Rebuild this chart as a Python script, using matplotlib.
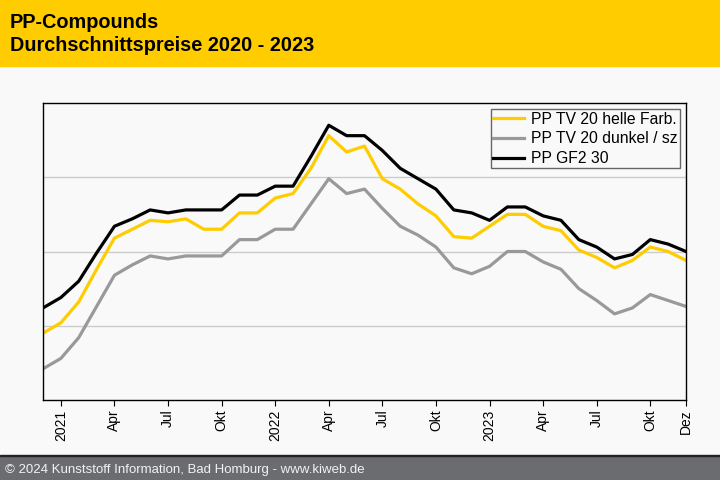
import matplotlib
matplotlib.use("Agg")
import matplotlib.pyplot as plt
from matplotlib.patches import Rectangle

plt.rcParams['font.family'] = ['Liberation Sans', 'DejaVu Sans']

# Monatswerte Dez 2020 - Dez 2023 (Skala ohne Beschriftung)
months = list(range(37))
helle = [1.45, 1.52, 1.66, 1.88, 2.09, 2.15, 2.21, 2.20, 2.22, 2.15, 2.15, 2.26, 2.26,
         2.36, 2.39, 2.56, 2.78, 2.67, 2.71, 2.49, 2.42, 2.32, 2.24, 2.10, 2.09,
         2.17, 2.25, 2.25, 2.17, 2.14, 2.01, 1.96, 1.89, 1.94, 2.03, 2.00, 1.94]
dunkel = [1.21, 1.28, 1.42, 1.63, 1.84, 1.91, 1.97, 1.95, 1.97, 1.97, 1.97, 2.08, 2.08,
          2.15, 2.15, 2.32, 2.49, 2.39, 2.42, 2.29, 2.17, 2.11, 2.03, 1.89, 1.85,
          1.90, 2.00, 2.00, 1.93, 1.88, 1.75, 1.67, 1.58, 1.62, 1.71, 1.67, 1.63]
gf2 = [1.62, 1.69, 1.80, 1.99, 2.17, 2.22, 2.28, 2.26, 2.28, 2.28, 2.28, 2.38, 2.38,
       2.44, 2.44, 2.64, 2.85, 2.78, 2.78, 2.68, 2.56, 2.49, 2.42, 2.28, 2.26,
       2.21, 2.30, 2.30, 2.24, 2.21, 2.08, 2.03, 1.95, 1.98, 2.08, 2.05, 2.00]
labels = ["PP TV 20 helle Farb.", "PP TV 20 dunkel / sz", "PP GF2 30"]

tick_pos = [1, 4, 7, 10, 13, 16, 19, 22, 25, 28, 31, 34, 36]
tick_labels = ["2021", "Apr", "Jul", "Okt", "2022", "Apr", "Jul", "Okt",
               "2023", "Apr", "Jul", "Okt", "Dez"]

bg = '#f9f9f9'
fig = plt.figure(figsize=(7.2, 4.8), dpi=100, facecolor=bg)

# Kopfzeile und Fusszeile
fig.patches.append(Rectangle((0, 1 - 66 / 480), 1, 66 / 480, transform=fig.transFigure,
                             color='#ffcc00', zorder=0))
fig.patches.append(Rectangle((0, 0), 1, 24 / 480, transform=fig.transFigure,
                             color='#6b6c70', zorder=0))
fig.patches.append(Rectangle((0, 24 / 480), 1, 1.5 / 480, transform=fig.transFigure,
                             color='#222222', zorder=0))
fig.text(10 / 720, 1 - 28 / 480, "PP-Compounds", fontsize=14.3, fontweight='bold')
fig.text(10 / 720, 1 - 51 / 480, "Durchschnittspreise 2020 - 2023", fontsize=14.3,
         fontweight='bold')
fig.text(5 / 720, 7 / 480, "\u00a9 2024 Kunststoff Information, Bad Homburg - www.kiweb.de",
         fontsize=9.5, color='#f2f2f2')

ax = fig.add_axes([43 / 720, 80 / 480, 643 / 720, 297 / 480])
ax.set_facecolor(bg)
ax.plot(months, helle, color='#ffcc00', lw=2.3, label=labels[0])
ax.plot(months, dunkel, color='#999999', lw=2.3, label=labels[1])
ax.plot(months, gf2, color='black', lw=2.3, label=labels[2])

ax.set_xlim(0, 36)
ax.set_ylim(1.0, 3.0)
ax.set_yticks([1.5, 2.0, 2.5])
ax.yaxis.grid(True, color='#cccccc', lw=1)
ax.set_axisbelow(True)
ax.tick_params(axis='y', left=False, labelleft=False)
ax.set_xticks(tick_pos)
ax.set_xticklabels(tick_labels, rotation=90, fontsize=10)
ax.tick_params(axis='x', length=4, direction='out', pad=3)
for s in ax.spines.values():
    s.set_color('black')
    s.set_linewidth(1)

leg = ax.legend(loc='upper right', fontsize=11.3, frameon=True, fancybox=False,
                handlelength=2.0, handletextpad=0.4, borderpad=0.15, labelspacing=0.3,
                borderaxespad=0.4)
leg.get_frame().set_edgecolor('#666666')
leg.get_frame().set_facecolor(bg)
leg.get_frame().set_alpha(1)

fig.savefig("out.png", dpi=100, facecolor=bg)
